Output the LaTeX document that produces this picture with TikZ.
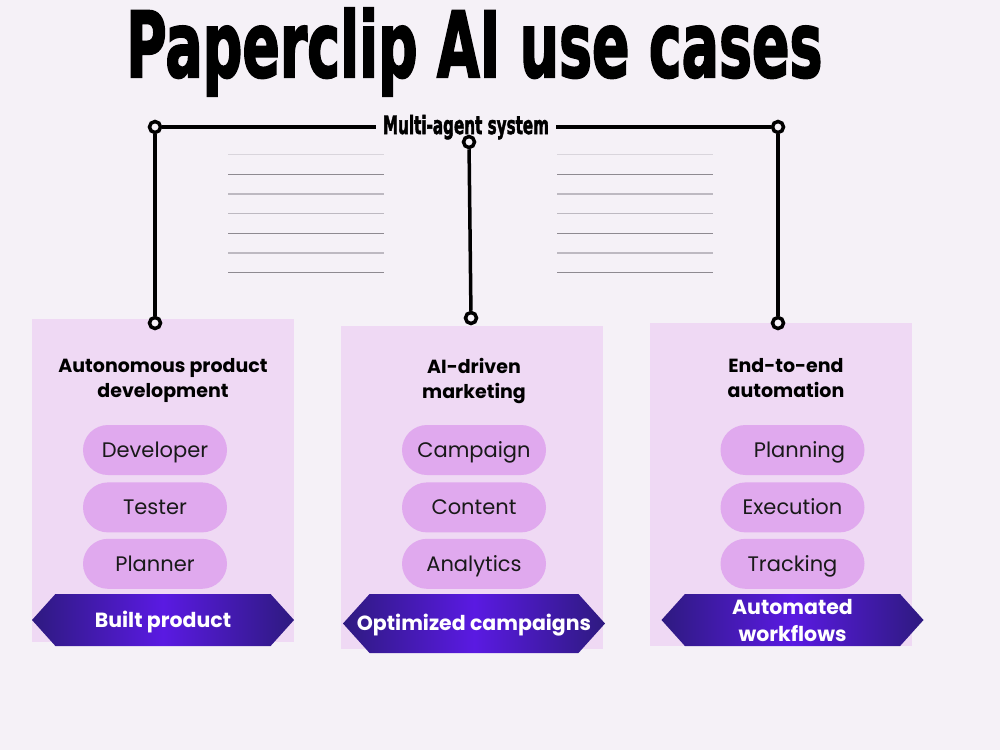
\documentclass[tikz,border=0pt]{standalone}
\usepackage{fontspec}
\setmainfont{Poppins}
\newfontfamily\headfont[BoldFeatures={FakeBold=2.5}]{DejaVu Sans}
\usetikzlibrary{positioning}
\usetikzlibrary{shapes.symbols}

\definecolor{pagebg}{HTML}{F5F1F7}
\definecolor{panelbg}{HTML}{EFD9F4}
\definecolor{pillbg}{HTML}{E0A9EE}
\definecolor{bandark}{HTML}{2E1A80}
\definecolor{banlight}{HTML}{5A1AE2}
\definecolor{ruleA}{HTML}{D9D5DC}
\definecolor{ruleB}{HTML}{8E8A91}
\definecolor{ruleC}{HTML}{BDB9C1}

\tikzset{
  panel/.style={fill=panelbg, minimum width=262pt, inner sep=0pt},
  heading/.style={align=center, anchor=north, inner sep=0pt,
    font=\fontsize{19}{25}\selectfont\bfseries},
  agent/.style={fill=pillbg, rounded corners=25pt, minimum width=144pt,
    minimum height=50pt, inner sep=0pt, text height=14.5pt, text depth=0pt,
    text=black!90, font=\fontsize{21}{24}\selectfont},
  banner/.style={signal, signal to=west and east, signal pointer angle=96,
    minimum width=262pt, inner sep=0pt, left color=bandark,
    right color=bandark, middle color=banlight, text=white, align=center,
    font=\fontsize{20.5}{27}\selectfont\bfseries},
  oneline/.style={text height=14pt, text depth=0pt},
  pin/.style={circle, draw, line width=3.5pt, fill=pagebg, minimum size=11pt,
    inner sep=0pt},
  wire/.style={line width=3.5pt},
}

\begin{document}
\begin{tikzpicture}[x=1pt, y=-1pt]
  \fill[pagebg] (0,0) rectangle (1000,750);
  \useasboundingbox (0,0) rectangle (1000,750);

  % title
  \node[anchor=base west, inner sep=0pt] (title) at (126,77)
    {\resizebox{696pt}{69pt}{\headfont\bfseries Paperclip AI use cases}};

  % ruled lines
  \foreach \yy/\cc/\ww in {154/ruleA/0.8, 174/ruleB/1, 194/ruleC/1.6,
      213/ruleC/1, 233/ruleB/1, 253/ruleC/1.6, 272/ruleB/1} {
    \draw[\cc, line width=\ww pt] (228,\yy) -- (384,\yy);
    \draw[\cc, line width=\ww pt] (557,\yy) -- (713,\yy);
  }

  % panels
  \node[panel, minimum height=323pt] (pnlA) at (163,480.5) {};
  \node[panel, minimum height=323pt] (pnlB) at (471.5,487.5) {};
  \node[panel, minimum height=323pt] (pnlC) at (780.5,484.5) {};

  \node[heading] (hdA) at (163,358) {Autonomous product\\development};
  \node[heading] (hdB) at (474,358) {AI-driven\\marketing};
  \node[heading] (hdC) at (786,358) {End-to-end\\automation};

  % agents
  \node[agent] (dev) at (155,450) {Developer};
  \node[agent, below=7pt of dev] (tst) {Tester};
  \node[agent, below=6pt of tst] (pln) {Planner};

  \node[agent] (cmp) at (474,450) {Campaign};
  \node[agent, below=7pt of cmp] (cnt) {Content};
  \node[agent, below=6pt of cnt] (anl) {Analytics};

  \node[agent] (plg) at (792.5,450) {\hspace{14pt}Planning};
  \node[agent, below=7pt of plg] (exe) {Execution};
  \node[agent, below=6pt of exe] (trk) {Tracking};

  % outcomes
  \node[banner, oneline, minimum height=52pt] (outA) at (163,620) {Built product};
  \node[banner, oneline, minimum height=59pt] (outB) at (474,623.5)
    {\makebox[0pt]{Optimized campaigns}};
  \node[banner, minimum height=52pt] (outC) at (792.5,620) {Automated\\workflows};

  % multi-agent bracket
  \node[anchor=base, inner xsep=7pt, inner ysep=0pt] (mas) at (466,134)
    {\resizebox{166pt}{19pt}{\headfont\bfseries Multi-agent system}};
  \node[pin] (ctl) at (155,127) {};
  \node[pin] (ctr) at (778,127) {};
  \node[pin] (ctm) at (469,142) {};
  \node[pin] (cbl) at (155,323) {};
  \node[pin] (cbm) at (471,318) {};
  \node[pin] (cbr) at (778,323) {};
  \draw[wire] (ctl) -- (ctl -| mas.west);
  \draw[wire] (mas.east |- ctr) -- (ctr);
  \draw[wire] (ctl) -- (cbl);
  \draw[wire] (ctm) -- (cbm);
  \draw[wire] (ctr) -- (cbr);
\end{tikzpicture}
\end{document}
